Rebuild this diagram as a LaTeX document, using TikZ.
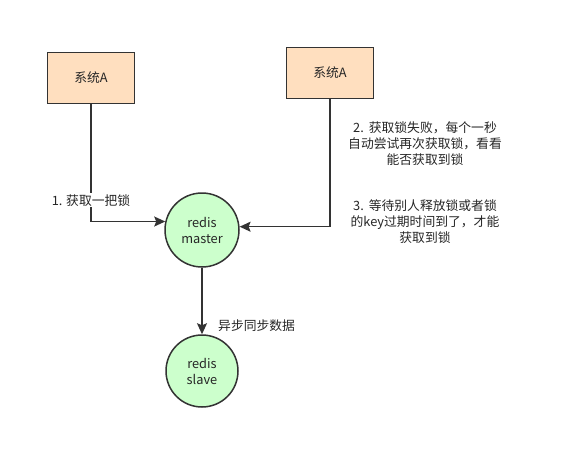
\documentclass[tikz,border=0pt]{standalone}
\usepackage{fontspec}
\setmainfont{Noto Sans CJK SC}
\usetikzlibrary{arrows.meta,positioning}

\begin{document}
\begin{tikzpicture}[
  x=1pt,y=-1pt,
  font=\fontsize{12.8}{16}\selectfont,
  text=black!85,
  sysbox/.style={draw=black!80,fill=orange!25!white,line width=1.5pt,minimum width=87pt,minimum height=51pt,align=center},
  rnode/.style={draw=black!80,fill=green!20!white,circle,line width=1.5pt,minimum size=74pt,inner sep=0pt,align=center},
  lab/.style={fill=white,inner sep=1pt},
  note/.style={align=center,inner sep=0pt},
  arr/.style={-{Stealth[length=11pt,width=10pt,inset=2pt]},line width=1.5pt,draw=black!80}
]
\useasboundingbox (0,0) rectangle (563,471);

% ---------- clients ----------
\node[sysbox] (sysA) at (91,78) {系统A};
\node[sysbox] (sysB) at (330,73) {系统A};

% ---------- redis ----------
\node[rnode] (master) at (202,230) {redis\\master};
\node[rnode,minimum size=72pt] (slave) at (202,371) {redis\\slave};

% ---------- arrows ----------
\draw[arr] (sysA.south) |- node[lab,pos=0.41] (step1) {1. 获取一把锁} (master.167);
\draw[arr] (sysB.south) |- (master.5);
\draw[arr] (master) -- (slave);

% ---------- notes ----------
\node[note] (step2) at (425,144) {2.\,\ 获取锁失败，每个一秒\\自动尝试再次获取锁，看看\\能否获取到锁};
\node[note] (step3) at (425,222) {3.\,\ 等待别人释放锁或者锁\\的key过期时间到了，才能\\获取到锁};
\node[note,anchor=west] (sync) at (218,326) {异步同步数据};

\end{tikzpicture}
\end{document}
